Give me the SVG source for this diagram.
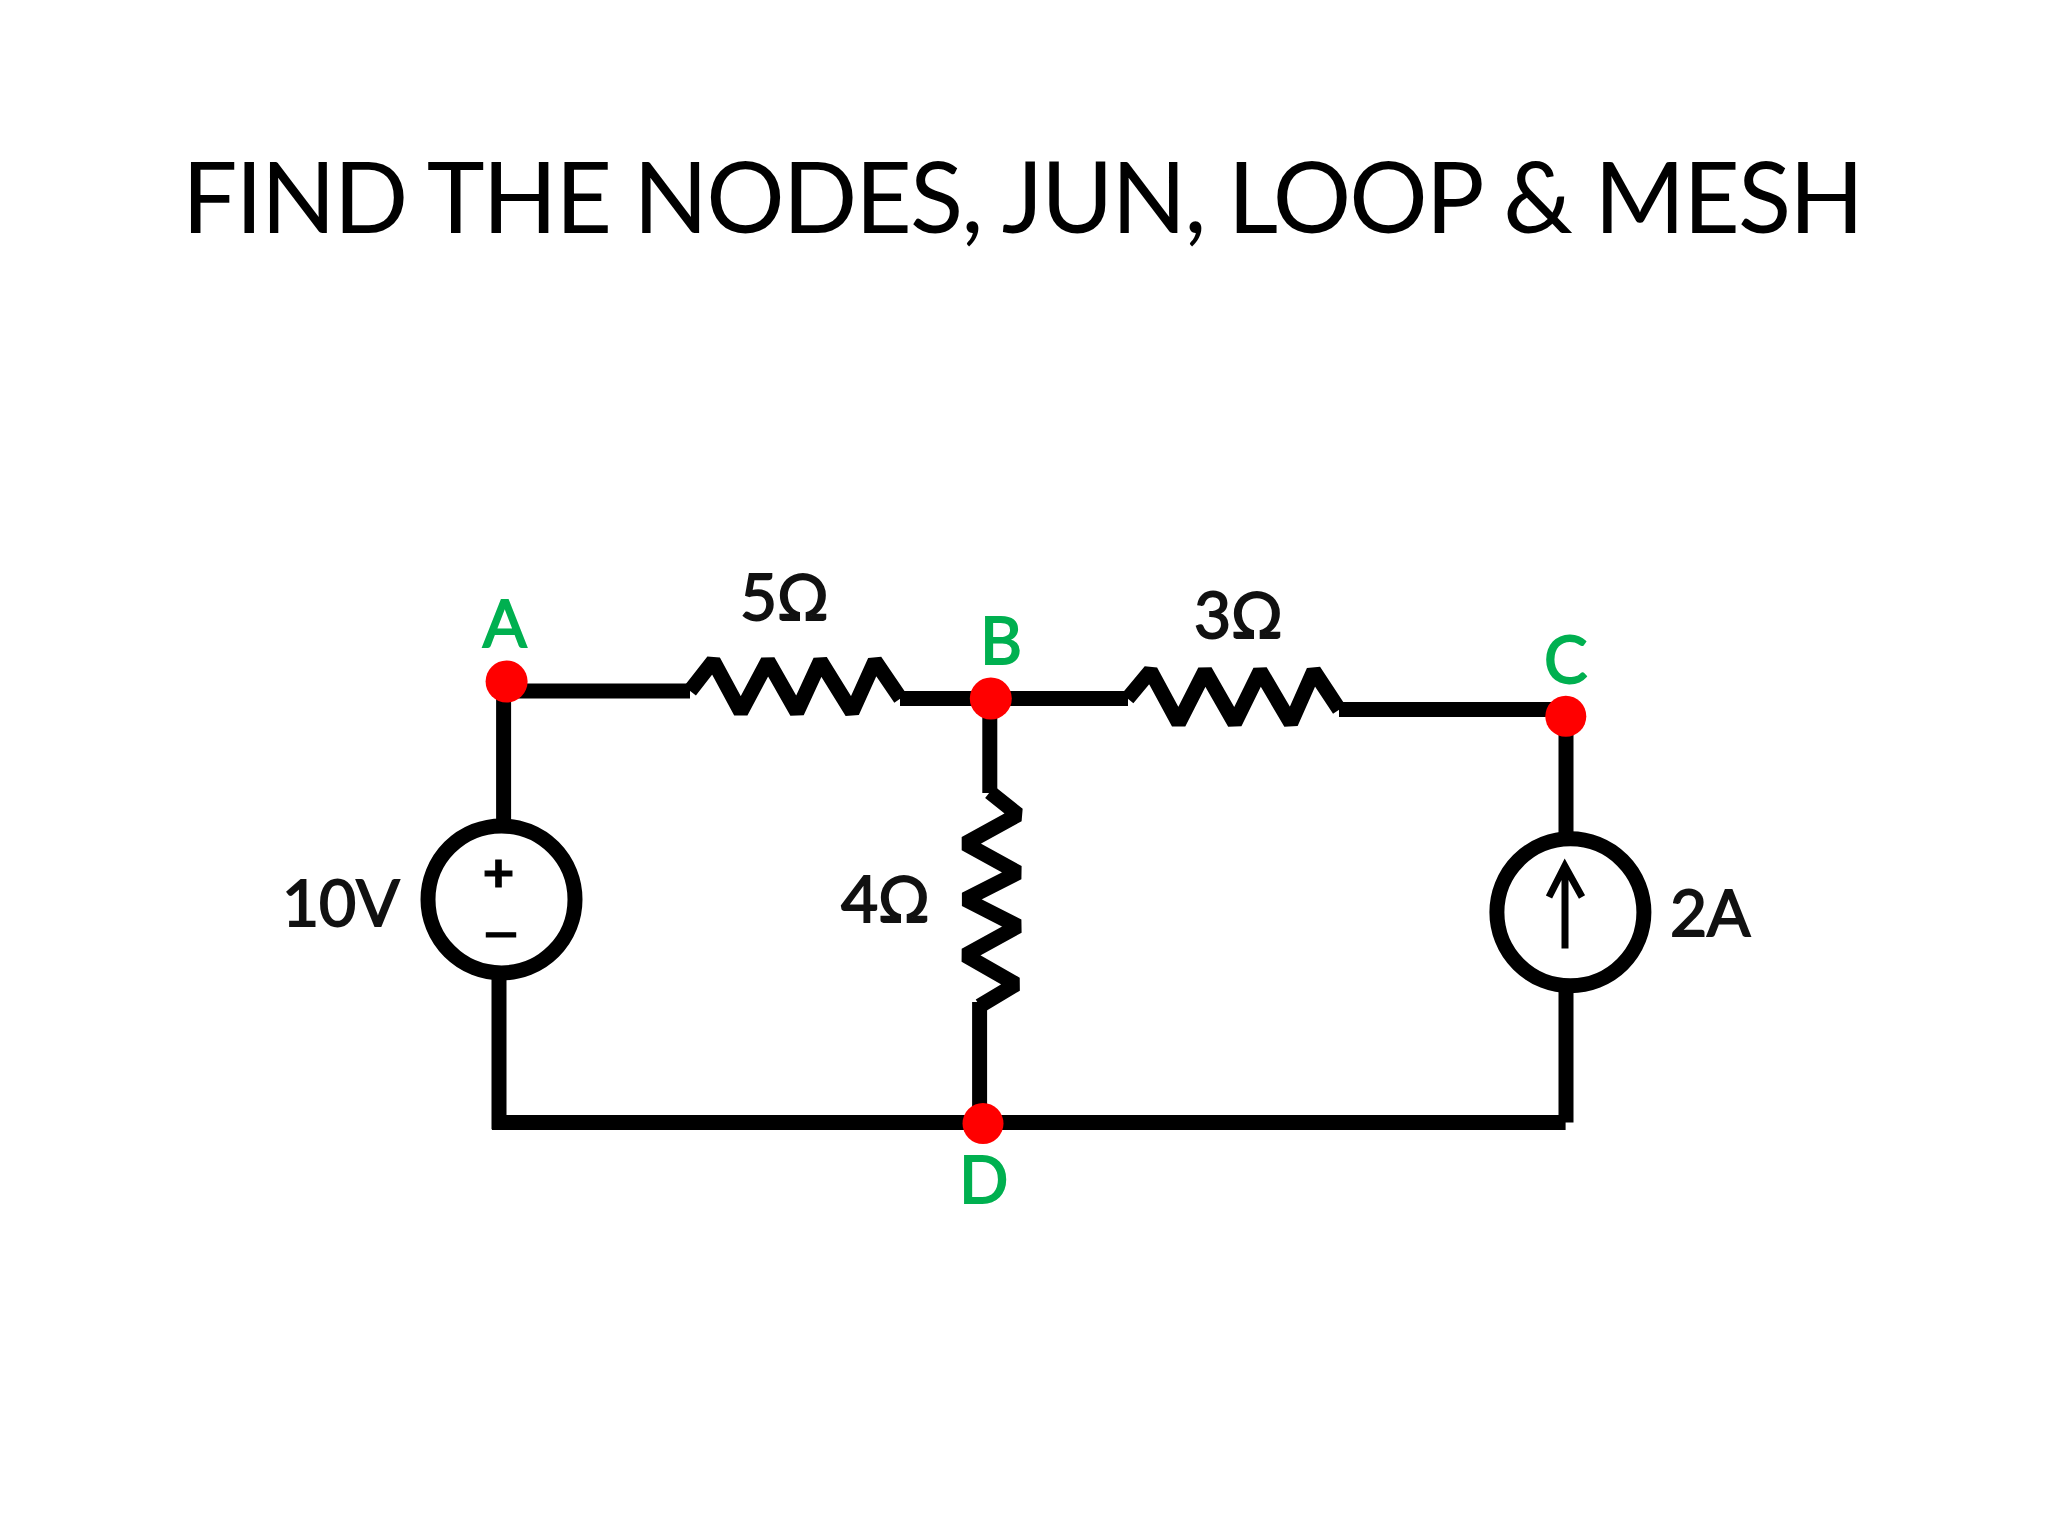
<svg xmlns="http://www.w3.org/2000/svg" width="2048" height="1536" viewBox="0 0 2048 1536">
<style>
.w{fill:none;stroke:#000;stroke-width:15;stroke-linejoin:bevel;stroke-linecap:butt}
.src{fill:#fff;stroke:#000;stroke-width:15}
.pt{fill:#f00}
text{font-family:"Lato","Carlito","Liberation Sans",sans-serif}
.lb{font-size:64px;fill:#111;stroke:#111;stroke-width:1.8}
.nm{font-size:65px;fill:#00b050;stroke:#00b050;stroke-width:1.8}
.t{font-size:98px;fill:#000}
.sg{font-weight:700;fill:#000;stroke:#000;stroke-width:1}
</style>
<rect width="2048" height="1536" fill="#fff"/>
<text id="title" class="t" x="182" y="233" textLength="1682">FIND THE NODES, JUN, LOOP &amp; MESH</text>
<g id="connectors">
<path class="w" d="M503.6 682V826"/>
<path class="w" d="M499 978V1129.3"/>
<path class="w" d="M492 1122.4H1565.6"/>
<path class="w" d="M1566 716V836"/>
<path class="w" d="M1566 990V1122.6"/>
<path class="w" d="M989.8 698.5V793"/>
<path class="w" d="M979.6 1002V1123.5"/>
<path class="w" d="M507 690.9H690"/>
<path class="w" d="M900 698.5H1128"/>
<path class="w" d="M1339 709.6H1566"/>
</g>
<g id="r5"><path class="w" d="M690 690.9L713.3 661L740.8 712L767.9 661L796.9 712L820.4 661L852 712L875 661L900.5 698.5"/><text class="lb" x="740" y="619.5">5Ω</text></g>
<g id="r3"><path class="w" d="M1127.6 698.5L1150.5 671L1178.6 723L1205 671L1234.7 723L1260.2 671L1290.8 723L1313.8 671L1339.3 709.6"/><text class="lb" x="1194" y="638.2">3Ω</text></g>
<g id="r4"><path class="w" d="M989.8 792.2L1018 814.6L965.3 843.6L1018 872.6L965.3 899.4L1018 926.2L965.3 955.2L1016 984.2L979.6 1006"/><text class="lb" x="841" y="921.7">4Ω</text></g>
<g id="v10"><circle class="src" cx="501.5" cy="899.4" r="73.5"/><text class="sg" font-size="54" x="482.5" y="892" textLength="32" lengthAdjust="spacingAndGlyphs">+</text><text class="sg" font-size="46" x="482" y="950" textLength="38" lengthAdjust="spacingAndGlyphs">−</text><text class="lb" x="282" y="926.2">10V</text></g>
<g id="i2"><circle class="src" cx="1570.4" cy="912.3" r="73.5"/><path d="M1565 948.5V868M1549 897L1564.8 866L1582 897" fill="none" stroke="#000" stroke-width="7"/><text class="lb" x="1670" y="936.4">2A</text></g>
<g id="nodeA"><circle class="pt" cx="506.6" cy="681.5" r="21"/><text class="nm" x="482.7" y="647">A</text></g>
<g id="nodeB"><circle class="pt" cx="990.8" cy="698.5" r="21"/><text class="nm" x="980" y="663.7">B</text></g>
<g id="nodeC"><circle class="pt" cx="1565.8" cy="716.3" r="20.5"/><text class="nm" x="1544" y="682.9">C</text></g>
<g id="nodeD"><circle class="pt" cx="983" cy="1123.5" r="20.5"/><text class="nm" x="959" y="1203">D</text></g>
</svg>
